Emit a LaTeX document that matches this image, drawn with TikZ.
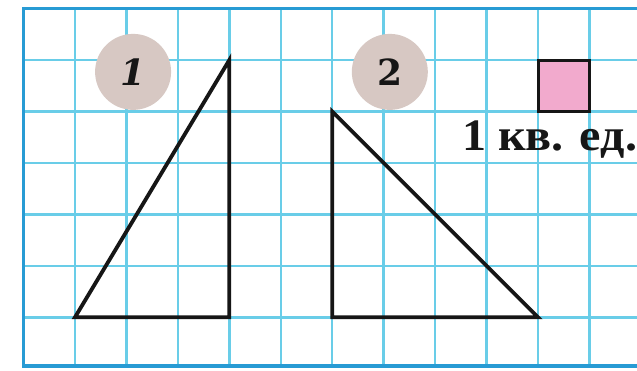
\documentclass[tikz,border=0pt]{standalone}
\usepackage{fontspec}
\setmainfont{Liberation Serif}
\newfontfamily\badgefont{DejaVu Serif}
\begin{document}
\begin{tikzpicture}[x=1pt,y=-1pt]
\definecolor{gridc}{RGB}{105,205,232}
\definecolor{borderc}{RGB}{40,155,212}
\definecolor{badgec}{RGB}{215,200,195}
\definecolor{unitc}{RGB}{242,170,205}
\definecolor{inkc}{RGB}{22,22,22}
\tikzset{
  gridline/.style={draw=gridc, line width=2.4pt},
  borderline/.style={draw=borderc, line width=3.6pt},
  figline/.style={draw=inkc, line width=3.8pt, line join=miter},
  badge/.style={circle, fill=badgec, minimum size=76pt, inner sep=0pt, text=inkc},
  unitsq/.style={draw=inkc, fill=unitc, line width=3pt}
}
\useasboundingbox (0,0) rectangle (637,370);
\fill[white] (0,0) rectangle (637,370);
\clip (0,0) rectangle (637,370);
\begin{scope}[shift={(23.5,8.6)}, x=51.45pt, y=-51.45pt]
  \foreach \i in {1,...,11} \draw[gridline] (\i,0) -- (\i,6.95);
  \foreach \j in {1,...,6} \draw[gridline] (0,\j) -- (12,\j);
  \draw[borderline] (12.5,0) -- (0,0) -- (0,6.95) -- (12.5,6.95);
  % badges
  \node[badge] (b1) at (2.13,1.23) {\badgefont\fontsize{36}{38}\selectfont\bfseries\itshape 1};
  \node[badge] (b2) at (7.12,1.23) {\badgefont\fontsize{36}{38}\selectfont\bfseries 2};
  % triangle 1
  \coordinate (t1a) at (4,1);
  \coordinate (t1b) at (1,6);
  \coordinate (t1c) at (4,6);
  \draw[figline] (t1a) -- (t1b) -- (t1c) -- cycle;
  % triangle 2
  \coordinate (t2a) at (6,2);
  \coordinate (t2b) at (6,6);
  \coordinate (t2c) at (10,6);
  \draw[figline] (t2a) -- (t2b) -- (t2c) -- cycle;
  % unit square
  \draw[unitsq] (10,1) rectangle (11,2);
  \node[anchor=base east, inner sep=0pt, text=inkc, xscale=1.07] (lbl) at (11.93,2.75)
    {\fontsize{45}{48}\selectfont\bfseries 1 кв. ед.};
\end{scope}
\end{tikzpicture}
\end{document}
